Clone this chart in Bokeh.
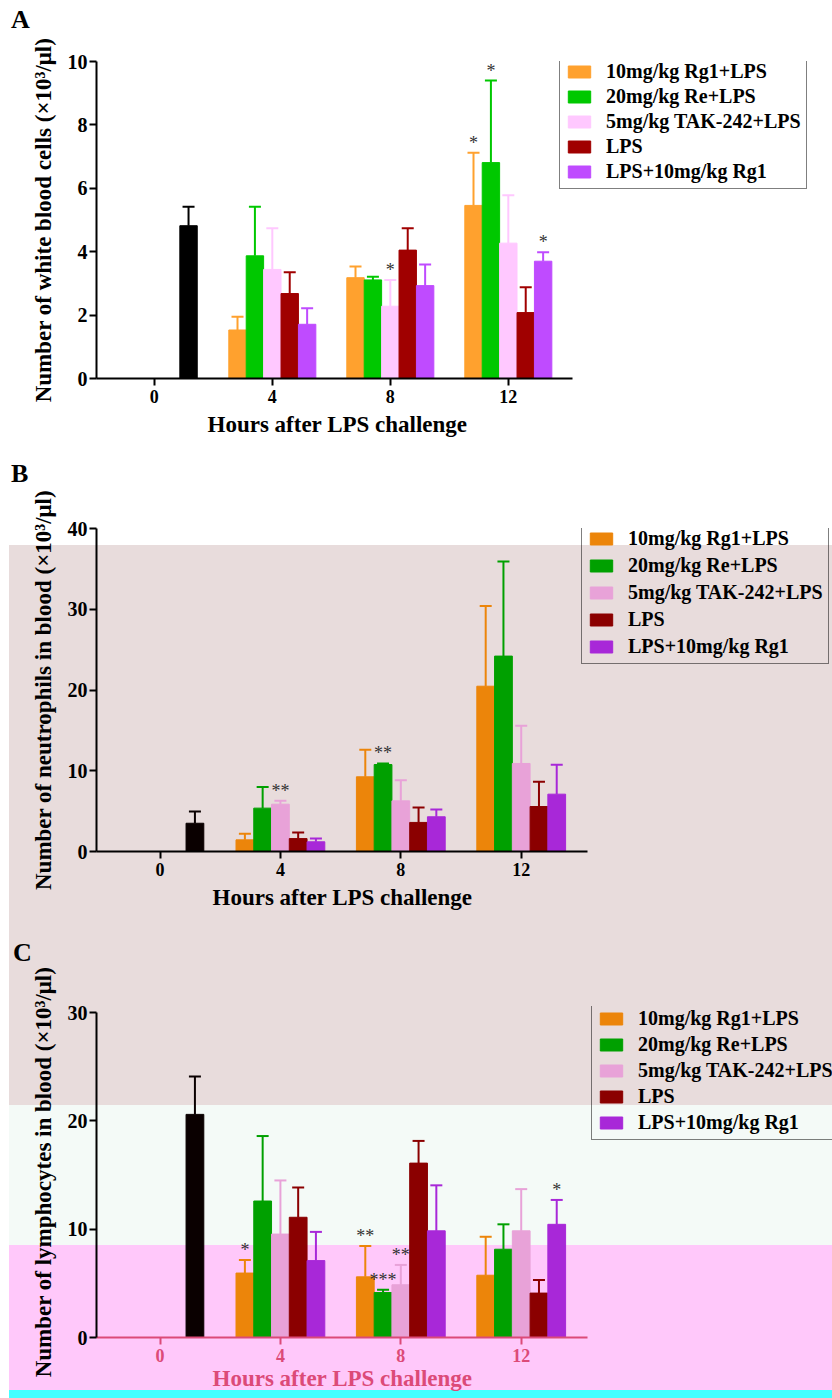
from bokeh.plotting import figure
from bokeh.models import (ColumnDataSource, Whisker, TeeHead, Legend, LegendItem,
                          FixedTicker, Range1d, Title, Div)
from bokeh.layouts import column
from bokeh.embed import file_html
from bokeh.resources import INLINE
from bokeh.core.properties import value

# ---------------- shared categories ----------------
hours = [4, 8, 12]
tick_hours = [0, 4, 8, 12]
control_hour = [0]
series_names = ["10mg/kg Rg1+LPS", "20mg/kg Re+LPS", "5mg/kg TAK-242+LPS",
                "LPS", "LPS+10mg/kg Rg1"]
x_title = "Hours after LPS challenge"

# ---------------- Panel A: white blood cells ----------------
wbc_control_mean = [4.82]
wbc_control_sd = [0.60]
wbc_rg1_mean = [1.53, 3.18, 5.46]
wbc_rg1_sd = [0.42, 0.35, 1.66]
wbc_re_mean = [3.87, 3.11, 6.81]
wbc_re_sd = [1.55, 0.10, 2.59]
wbc_tak_mean = [3.44, 2.28, 4.27]
wbc_tak_sd = [1.30, 0.83, 1.51]
wbc_lps_mean = [2.68, 4.05, 2.08]
wbc_lps_sd = [0.67, 0.69, 0.80]
wbc_lpsrg1_mean = [1.71, 2.93, 3.70]
wbc_lpsrg1_sd = [0.51, 0.67, 0.28]
wbc_star_series = [2, 0, 1, 4]
wbc_star_hour = [8, 12, 12, 12]
wbc_star_text = ["*", "*", "*", "*"]

# ---------------- Panel B: neutrophils ----------------
neu_control_mean = [3.5]
neu_control_sd = [1.45]
neu_rg1_mean = [1.44, 9.25, 20.47]
neu_rg1_sd = [0.76, 3.35, 9.93]
neu_re_mean = [5.37, 10.77, 24.2]
neu_re_sd = [2.63, 0.13, 11.7]
neu_tak_mean = [5.86, 6.27, 10.9]
neu_tak_sd = [0.41, 2.56, 4.66]
neu_lps_mean = [1.6, 3.6, 5.57]
neu_lps_sd = [0.75, 1.85, 3.06]
neu_lpsrg1_mean = [1.2, 4.3, 7.1]
neu_lpsrg1_sd = [0.4, 0.9, 3.63]
neu_star_series = [2, 1]
neu_star_hour = [4, 8]
neu_star_text = ["**", "**"]

# ---------------- Panel C: lymphocytes ----------------
lym_control_mean = [20.6]
lym_control_sd = [3.5]
lym_rg1_mean = [5.95, 5.6, 5.75]
lym_rg1_sd = [1.2, 2.85, 3.55]
lym_re_mean = [12.6, 4.15, 8.15]
lym_re_sd = [6.0, 0.25, 2.3]
lym_tak_mean = [9.55, 4.87, 9.85]
lym_tak_sd = [4.95, 1.83, 3.85]
lym_lps_mean = [11.1, 16.1, 4.1]
lym_lps_sd = [2.75, 2.05, 1.2]
lym_lpsrg1_mean = [7.1, 9.85, 10.45]
lym_lpsrg1_sd = [2.65, 4.2, 2.25]
lym_star_series = [0, 0, 1, 2, 4]
lym_star_hour = [4, 8, 8, 8, 12]
lym_star_text = ["*", "**", "***", "**", "*"]

# ---------------- styles ----------------
FONT = "Liberation Serif"
W = 832
B_LEFT = 96
BAR_W = 0.59
OFFSETS = [-2 * BAR_W, -BAR_W, 0.0, BAR_W, 2 * BAR_W]
CONTROL_OFFSET = 1.16
colors_a = ["#FFA12E", "#00C800", "#FFC8FF", "#A00000", "#BF4BFF"]
colors_b = ["#EC850A", "#00A000", "#E8A2D8", "#8B0000", "#A828D8"]


def letter_div(letter, height, pad_top, pad_left):
    html = ('<div style="padding:%dpx 0 0 %dpx;font:bold 26px/26px \'Liberation Serif\';'
            'color:#000000;">%s</div>' % (pad_top, pad_left, letter))
    return Div(text=html, width=60, height=height, margin=0)


def make_panel(ylabel, ylabel_size, ymax, yticks, ctrl_mean, ctrl_sd,
               means, sds, colors, ctrl_color, star_series, star_hour, star_text,
               height, b_top, b_bottom, x_start, px_per_hour, y_end,
               legend_loc, legend_spacing, xtitle_offset,
               xaxis_color="black", xtitle_standoff=13):
    x_end = x_start + (W - B_LEFT) / px_per_hour
    p = figure(width=W, height=height, output_backend="svg", toolbar_location=None,
               x_range=Range1d(x_start, x_end), y_range=Range1d(0, y_end),
               min_border_left=B_LEFT, min_border_right=0,
               min_border_top=b_top, min_border_bottom=b_bottom)
    p.outline_line_color = None
    p.grid.visible = False
    p.background_fill_color = None
    p.border_fill_color = None

    # control bar at time 0
    csrc = ColumnDataSource(dict(x=[h + CONTROL_OFFSET for h in control_hour], top=ctrl_mean,
                                 lower=ctrl_mean,
                                 upper=[m + s for m, s in zip(ctrl_mean, ctrl_sd)]))
    p.add_layout(Whisker(source=csrc, base="x", lower="lower", upper="upper",
                         line_color=ctrl_color, line_width=2, level="glyph",
                         upper_head=TeeHead(size=12, line_color=ctrl_color, line_width=2),
                         lower_head=None))
    p.vbar(x="x", top="top", width=BAR_W, source=csrc, fill_color=ctrl_color,
           line_color=ctrl_color)

    items = []
    for i, (name, m, s, c) in enumerate(zip(series_names, means, sds, colors)):
        src = ColumnDataSource(dict(x=[h + OFFSETS[i] for h in hours], top=m, lower=m,
                                    upper=[a + b for a, b in zip(m, s)]))
        p.add_layout(Whisker(source=src, base="x", lower="lower", upper="upper",
                             line_color=c, line_width=2, level="glyph",
                             upper_head=TeeHead(size=12, line_color=c, line_width=2),
                             lower_head=None))
        r = p.vbar(x="x", top="top", width=BAR_W, source=src, fill_color=c, line_color=c)
        items.append(LegendItem(label=name, renderers=[r]))

    # significance marks
    sx, sy = [], []
    for si, sh in zip(star_series, star_hour):
        k = hours.index(sh)
        sx.append(sh + OFFSETS[si])
        sy.append(means[si][k] + sds[si][k])
    p.text(x=sx, y=sy, text=star_text, text_font=value(FONT), text_font_size="18px",
           text_align="center", text_baseline="bottom", text_color="#333333")

    legend = Legend(items=items, location=legend_loc, margin=0, padding=5,
                    spacing=legend_spacing, glyph_width=28, glyph_height=15,
                    label_standoff=13,
                    label_text_font=FONT, label_text_font_style="bold",
                    label_text_font_size="20px", label_text_color="black",
                    border_line_color="black", border_line_width=1.5,
                    background_fill_alpha=0)
    p.add_layout(legend)

    for ax in (p.xaxis[0], p.yaxis[0]):
        ax.axis_line_width = 2
        ax.major_tick_line_width = 2
        ax.major_tick_out = 7
        ax.major_tick_in = 0
        ax.minor_tick_line_color = None
        ax.major_label_text_font = FONT
        ax.major_label_text_font_style = "bold"
        ax.axis_label_text_font = FONT
        ax.axis_label_text_font_style = "bold"
        ax.axis_label_text_color = "black"
        ax.major_label_text_color = "black"
    p.yaxis.axis_label_text_font_size = ylabel_size
    p.xaxis.bounds = (x_start, 14.19)
    p.yaxis.bounds = (0, ymax)
    p.xaxis.ticker = FixedTicker(ticks=tick_hours)
    p.yaxis.ticker = FixedTicker(ticks=yticks)
    p.xaxis.major_label_text_font_size = "18px"
    p.yaxis.major_label_text_font_size = "20px"
    p.xaxis.major_label_standoff = 4
    p.yaxis.major_label_standoff = 2
    p.yaxis.axis_label_standoff = 9
    p.xaxis.axis_line_color = xaxis_color
    p.xaxis.major_tick_line_color = xaxis_color
    p.xaxis.major_label_text_color = xaxis_color
    p.yaxis.axis_label = ylabel

    # x-axis title, centred under the drawn axis line (not under the wider frame)
    p.add_layout(Title(text=x_title, align="left", offset=xtitle_offset,
                       standoff=xtitle_standoff, vertical_align="top",
                       text_font=FONT, text_font_style="bold",
                       text_font_size="23px", text_color=xaxis_color), "below")
    return p


pa = make_panel("Number of white blood cells (\u00d710\u00b3/\u03bcl)", "23px", 10,
                [0, 2, 4, 6, 8, 10], wbc_control_mean, wbc_control_sd,
                [wbc_rg1_mean, wbc_re_mean, wbc_tak_mean, wbc_lps_mean, wbc_lpsrg1_mean],
                [wbc_rg1_sd, wbc_re_sd, wbc_tak_sd, wbc_lps_sd, wbc_lpsrg1_sd],
                colors_a, "#000000", wbc_star_series, wbc_star_hour, wbc_star_text,
                height=419, b_top=30, b_bottom=72,
                x_start=-1.96, px_per_hour=29.5, y_end=10,
                legend_loc=(463, 189), legend_spacing=2, xtitle_offset=111)

pb = make_panel("Number of neutrophils in blood (\u00d710\u00b3/\u03bcl)", "23px", 40,
                [0, 10, 20, 30, 40], neu_control_mean, neu_control_sd,
                [neu_rg1_mean, neu_re_mean, neu_tak_mean, neu_lps_mean, neu_lpsrg1_mean],
                [neu_rg1_sd, neu_re_sd, neu_tak_sd, neu_lps_sd, neu_lpsrg1_sd],
                colors_b, "#0A0000", neu_star_series, neu_star_hour, neu_star_text,
                height=440, b_top=43, b_bottom=74,
                x_start=-2.11, px_per_hour=30.1, y_end=40,
                legend_loc=(485, 187), legend_spacing=4, xtitle_offset=116)

pc = make_panel("Number of lymphocytes in blood (\u00d710\u00b3/\u03bcl)", "23px", 30,
                [0, 10, 20, 30], lym_control_mean, lym_control_sd,
                [lym_rg1_mean, lym_re_mean, lym_tak_mean, lym_lps_mean, lym_lpsrg1_mean],
                [lym_rg1_sd, lym_re_sd, lym_tak_sd, lym_lps_sd, lym_lpsrg1_sd],
                colors_b, "#0A0000", lym_star_series, lym_star_hour, lym_star_text,
                height=435, b_top=43, b_bottom=61,
                x_start=-2.11, px_per_hour=30.1, y_end=30.56,
                legend_loc=(495, 197), legend_spacing=3, xtitle_offset=116,
                xaxis_color="#DC4A78", xtitle_standoff=3)

bands = ("linear-gradient(to right, #FFFFFF 0px, #FFFFFF 9px, rgba(255,255,255,0) 9px), "
         "linear-gradient(to bottom, #FFFFFF 0px, #FFFFFF 545px, #E8DCDC 545px, "
         "#E8DCDC 1105px, #F4FAF7 1105px, #F4FAF7 1245px, #FFC8FA 1245px, "
         "#FFC8FA 1390px, #44FFFF 1390px, #44FFFF 100%)")
layout = column(letter_div("A", 31, 7, 11), pa,
                letter_div("B", 35, 11, 11), pb,
                letter_div("C", 38, 15, 13), pc,
                spacing=0, styles={"background": bands})
open("out.html", "w").write(file_html(layout, INLINE))
